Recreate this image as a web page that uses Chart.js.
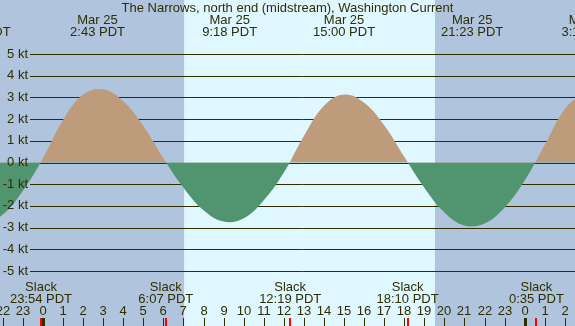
<!DOCTYPE html>
<html>
<head>
<meta charset="utf-8">
<script src="https://cdn.jsdelivr.net/npm/chart.js@4/dist/chart.umd.min.js"></script>
<style>
  body { margin: 0; background: #b0c4de; }
  #wrap { width: 575px; height: 326px; }
</style>
</head>
<body>
<div id="wrap"><canvas id="tideChart" width="575" height="326"></canvas></div>
<script>
// hours relative to Mar 25 00:00 PDT, current speed in knots
const hours = [-3, -2, -1, 0, 1, 2, 3, 4, 5, 6, 7, 8, 9, 10, 11, 12, 13, 14, 15, 16, 17, 18, 19, 20, 21, 22, 23, 24, 25, 26, 27];
const knots = [-2.88, -2.40, -1.30, 0.20, 1.96, 3.13, 3.37, 2.82, 1.68, 0.19, -1.16, -2.20, -2.72, -2.57, -1.74, -0.46,
               1.22, 2.61, 3.13, 2.75, 1.72, 0.26, -1.16, -2.30, -2.90, -2.81, -2.07, -0.83, 0.82, 2.47, 3.28];

// max flood / max ebb labels along the top
const peakHours = [-3.16, 2.717, 9.3, 15.0, 21.383, 27.2];
const peakDates = ['Mar 24', 'Mar 25', 'Mar 25', 'Mar 25', 'Mar 25', 'Mar 26'];
const peakTimes = ['20:50 PDT', '2:43 PDT', '9:18 PDT', '15:00 PDT', '21:23 PDT', '3:12 PDT'];

// slack water labels along the bottom
const slackHours = [-0.1, 6.117, 12.317, 18.167, 24.583];
const slackTimes = ['23:54 PDT', '6:07 PDT', '12:19 PDT', '18:10 PDT', '0:35 PDT'];

const ktTicks = [5, 4, 3, 2, 1, 0, -1, -2, -3, -4, -5];
const hourTicks = [-2, -1, 0, 1, 2, 3, 4, 5, 6, 7, 8, 9, 10, 11, 12, 13, 14, 15, 16, 17, 18, 19, 20, 21, 22, 23, 24, 25, 26];

const sunrise = 7.03;
const sunset = 19.53;

const title = 'The Narrows, north end (midstream), Washington Current';

const NIGHT = '#b0c4de';
const DAY = '#dff7ff';
const FLOOD = '#bd9b7b';
const EBB = '#509570';
const INK = '#2e2e00';
const FONT = '13px "Liberation Sans", Arial, sans-serif';

const tidePlugin = {
    id: 'tideDecor',
    beforeDraw(chart) {
        const { ctx, width, height } = chart;
        const x = chart.scales.x;
        ctx.save();
        ctx.fillStyle = NIGHT;
        ctx.fillRect(0, 0, width, height);
        const x1 = x.getPixelForValue(sunrise);
        const x2 = x.getPixelForValue(sunset);
        ctx.fillStyle = DAY;
        ctx.fillRect(x1, 0, x2 - x1, height);
        ctx.restore();
    },
    beforeDatasetsDraw(chart) {
        const { ctx, width } = chart;
        const y = chart.scales.y;
        ctx.save();
        ctx.strokeStyle = INK;
        ctx.lineWidth = 1;
        ktTicks.forEach(k => {
            const py = Math.round(y.getPixelForValue(k)) + 0.5;
            ctx.beginPath();
            ctx.moveTo(30, py);
            ctx.lineTo(width, py);
            ctx.stroke();
        });
        ctx.restore();
    },
    afterDatasetsDraw(chart) {
        const { ctx, width } = chart;
        const x = chart.scales.x;
        const y = chart.scales.y;
        ctx.save();
        ctx.fillStyle = INK;
        ctx.font = FONT;
        ctx.textBaseline = 'middle';

        // y labels
        ctx.textAlign = 'right';
        ktTicks.forEach(k => {
            ctx.fillText(k + ' kt', 28, y.getPixelForValue(k));
        });

        ctx.textAlign = 'center';
        ctx.fillText(title, width / 2, 8);

        peakHours.forEach((h, i) => {
            const px = x.getPixelForValue(h);
            ctx.fillText(peakDates[i], px, 20);
            ctx.fillText(peakTimes[i], px, 32);
        });

        slackHours.forEach((h, i) => {
            const px = x.getPixelForValue(h);
            ctx.fillText('Slack', px, 287);
            ctx.fillText(slackTimes[i], px, 299);
        });

        // hour ticks
        hourTicks.forEach(h => {
            const px = Math.round(x.getPixelForValue(h));
            const label = ((h % 24) + 24) % 24;
            ctx.fillText(String(label), px, 311);
            if (label === 0) {
                ctx.fillRect(px - 1, 318, 3, 8);
            } else {
                ctx.fillRect(px, 318, 1, 8);
            }
        });

        ctx.fillStyle = '#ff0000';
        slackHours.forEach(h => {
            const px = Math.round(x.getPixelForValue(h));
            ctx.fillRect(px - 1, 318, 2, 8);
        });
        ctx.restore();
    }
};

new Chart(document.getElementById('tideChart'), {
    type: 'line',
    data: {
        datasets: [{
            data: hours.map((h, i) => ({ x: h, y: knots[i] })),
            borderWidth: 0,
            borderColor: 'rgba(0,0,0,0)',
            pointRadius: 0,
            tension: 0.4,
            fill: { target: 'origin', above: FLOOD, below: EBB }
        }]
    },
    options: {
        responsive: false,
        animation: false,
        layout: { padding: { top: 54, bottom: 55, left: 0, right: 0 } },
        plugins: { legend: { display: false }, tooltip: { enabled: false }, title: { display: false } },
        scales: {
            x: { type: 'linear', min: -2.142, max: 26.507, display: false },
            y: { type: 'linear', min: -5, max: 5, display: false }
        }
    },
    plugins: [tidePlugin]
});
</script>
</body>
</html>
